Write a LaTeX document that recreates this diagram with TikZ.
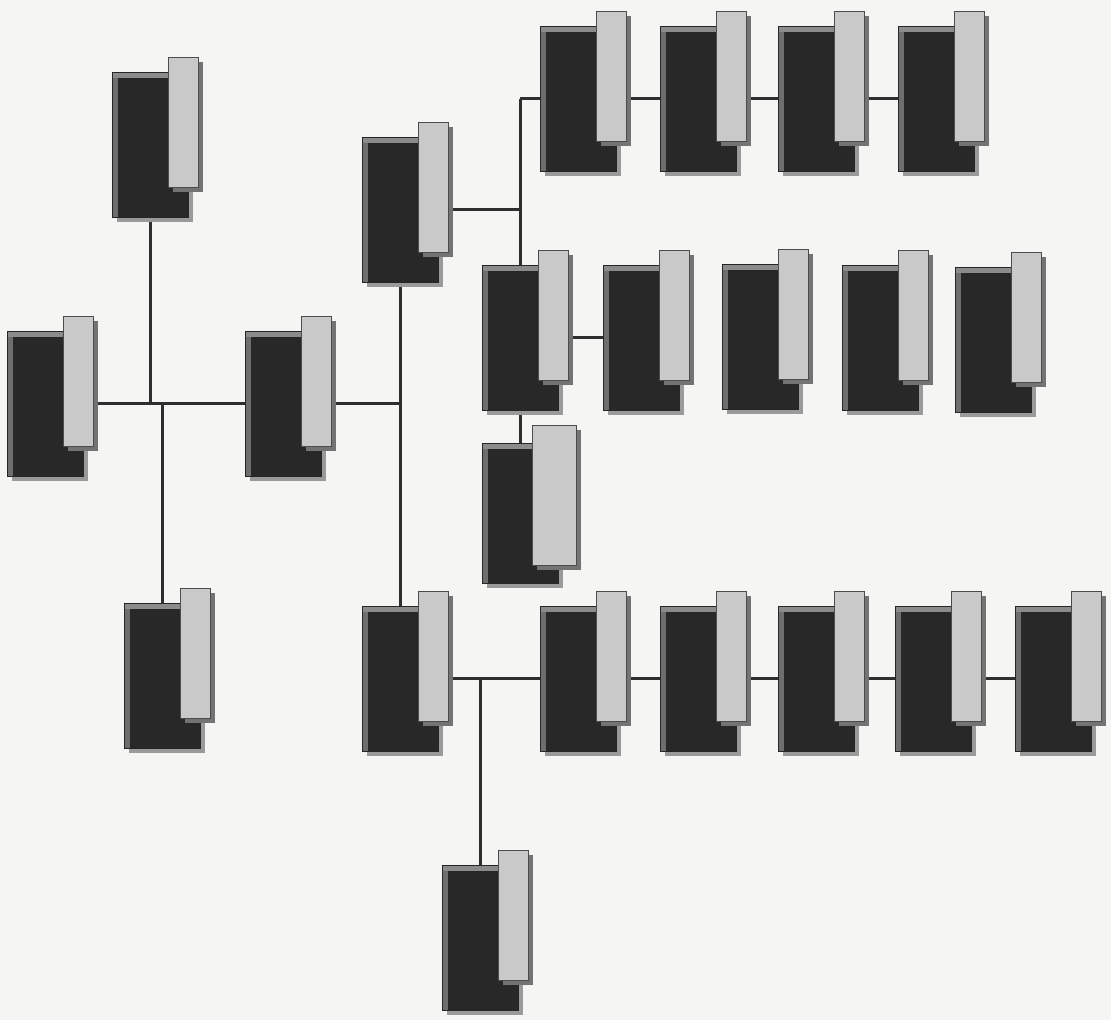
\documentclass[tikz,border=0pt]{standalone}
\usetikzlibrary{shadows,calc}
\definecolor{bgc}{HTML}{F5F5F3}
\definecolor{boxc}{HTML}{282828}
\definecolor{bevc}{HTML}{6E6E6E}
\definecolor{tabc}{HTML}{C9C9C9}
\definecolor{linec}{HTML}{2E2E2E}
\definecolor{shc}{HTML}{9A9A9A}
\pgfdeclarelayer{bg}
\pgfsetlayers{bg,main}
\tikzset{
  darkbox/.style={draw=black!85, line width=0.6pt, fill=boxc, minimum width=76pt, minimum height=145pt,
    inner sep=0pt, anchor=north west,
    drop shadow={shadow xshift=5pt, shadow yshift=-5pt, fill=shc, opacity=1},
    path picture={
      \fill[bevc] (path picture bounding box.north west) rectangle ([xshift=6pt]path picture bounding box.south west);
      \fill[bevc!80] (path picture bounding box.north west) rectangle ([yshift=-6pt]path picture bounding box.north east);}},
  tabbox/.style={draw=gray!60!black, line width=0.5pt, fill=tabc, minimum height=130pt,
    inner sep=0pt, anchor=north west,
    drop shadow={shadow xshift=5pt, shadow yshift=-5pt, fill=shc!75!black, opacity=1}},
  conn/.style={draw=linec, line width=2.8pt}
}
\newcommand\orgunit[4][30]{%
  \node[darkbox] (#2) at (#3,#4) {};
  \node[tabbox, minimum width=#1pt] (#2t) at ($(#2.north west)+(56,-15)$) {};
}
\begin{document}
\begin{tikzpicture}[x=1pt,y=-1pt]
\begin{pgfonlayer}{bg}
\fill[bgc] (0,0) rectangle (1111,1020);
\end{pgfonlayer}
\useasboundingbox (0,0) rectangle (1111,1020);

\orgunit{A}{112}{72}
\orgunit{B}{7}{331}
\orgunit{C}{245}{331}
\orgunit{D}{124}{603}
\orgunit{E}{362}{137}
\orgunit{F}{362}{606}
\orgunit{G1}{540}{26}
\orgunit{G2}{660}{26}
\orgunit{G3}{778}{26}
\orgunit{G4}{898}{26}
\orgunit{H1}{482}{265}
\orgunit{H2}{603}{265}
\orgunit{H3}{722}{264}
\orgunit{H4}{842}{265}
\orgunit{H5}{955}{267}
\node[darkbox, minimum height=140pt] (I) at (482,443) {};
\node[tabbox, minimum width=44pt, minimum height=140pt] (It) at ($(I.north west)+(50,-18)$) {};
\orgunit{J1}{540}{606}
\orgunit{J2}{660}{606}
\orgunit{J3}{778}{606}
\orgunit{J4}{895}{606}
\orgunit{J5}{1015}{606}
\orgunit{K}{442}{865}

\begin{pgfonlayer}{bg}
\draw[conn] (B.east) -- (C.west);
\draw[conn] (A.south) -- (A.south |- B.east);
\draw[conn] (D.north) -- (D.north |- B.east);
\draw[conn] (C.east) -- (C.east -| E.south);
\draw[conn] (E.south) -- (F.north);
\draw[conn] (E.east) -- (E.east -| H1.north);
\coordinate (topj) at (G1.west -| H1.north);
\draw[conn] (topj) -- (H1.north);
\draw[conn] (topj) -- (G1.west);
\draw[conn] (G1.east) -- (G2.west);
\draw[conn] (G2.east) -- (G3.west);
\draw[conn] (G3.east) -- (G4.west);
\draw[conn] (H1.south) -- (I.north);
\draw[conn] (H1.east) -- (H2.west);
\draw[conn] (F.east) -- (J1.west);
\draw[conn] (J1.east) -- (J2.west);
\draw[conn] (J2.east) -- (J3.west);
\draw[conn] (J3.east) -- (J4.west);
\draw[conn] (J4.east) -- (J5.west);
\coordinate (botj) at (F.east -| K.north);
\draw[conn] (botj) -- (K.north);
\end{pgfonlayer}
\end{tikzpicture}
\end{document}
